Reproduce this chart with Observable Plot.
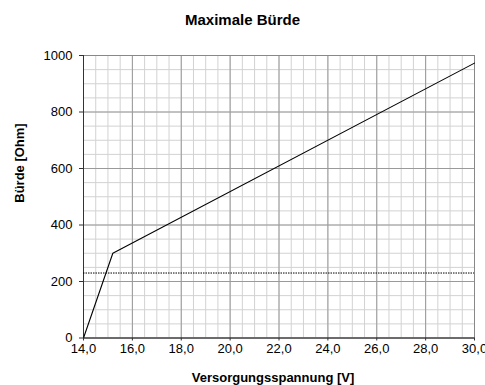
<!DOCTYPE html>
<html>
<head>
<meta charset="utf-8">
<script src="https://cdn.jsdelivr.net/npm/d3@7"></script>
<script src="https://cdn.jsdelivr.net/npm/@observablehq/plot@0.6"></script>
<style>
  body { margin: 0; background: #fff; font-family: "Liberation Sans", Arial, sans-serif; }
  #wrap { width: 485px; height: 385px; position: relative; overflow: hidden; }
  #title { width: 485px; height: 28px; padding-top: 12px; text-align: center; font: bold 15px/15px "Liberation Sans", Arial, sans-serif; color: #000; }
</style>
</head>
<body>
<div id="wrap">
  <div id="title">Maximale Bürde</div>
  <div id="chart"></div>
</div>
<script>
// Data
const voltage = [14.0, 15.2, 30.0];          // Versorgungsspannung [V]
const burden = [0, 300, 973];                 // Bürde [Ohm]
const referenceLine = [230];                  // dotted horizontal line [Ohm]
const xTicks = [14, 16, 18, 20, 22, 24, 26, 28, 30];
const yTicks = [0, 200, 400, 600, 800, 1000];
const xLabel = "Versorgungsspannung [V]";
const yLabel = "Bürde [Ohm]";

const xMinor = d3.range(14, 30.001, 0.5);
const yMinor = d3.range(0, 1000.001, 50);
const data = voltage.map((v, i) => ({v, r: burden[i]}));
const fmtX = d => d.toFixed(1).replace(".", ",");
const fmtY = d => String(d);

const chart = Plot.plot({
  width: 485,
  height: 345,
  marginTop: 15,
  marginBottom: 47.5,
  marginLeft: 83,
  marginRight: 11,
  style: {fontFamily: "'Liberation Sans', Arial, sans-serif", fontSize: "13px", background: "#fff", overflow: "visible"},
  x: {domain: [14, 30], nice: false},
  y: {domain: [0, 1000], nice: false},
  marks: [
    Plot.ruleX(xMinor, {stroke: "#d2d2d2", strokeWidth: 1}),
    Plot.ruleY(yMinor, {stroke: "#d2d2d2", strokeWidth: 1}),
    Plot.ruleX(xTicks, {stroke: "#9a9a9a", strokeWidth: 1}),
    Plot.ruleY(yTicks, {stroke: "#9a9a9a", strokeWidth: 1}),
    Plot.frame({stroke: "#888"}),
    Plot.ruleX([14], {stroke: "#333"}),
    Plot.ruleY([0], {stroke: "#333"}),
    Plot.ruleY(referenceLine, {stroke: "#000", strokeWidth: 1, strokeDasharray: "1.5,1"}),
    Plot.line(data, {x: "v", y: "r", stroke: "#000", strokeWidth: 1.1}),
    Plot.axisX({ticks: xTicks, tickFormat: fmtX, tickSize: 3, tickPadding: 3, label: null, stroke: "#333"}),
    Plot.axisY({ticks: yTicks, tickFormat: fmtY, tickSize: 4, tickPadding: 7, label: null, stroke: "#333"}),
    Plot.text([xLabel], {frameAnchor: "bottom", dy: 43.5, dx: -6, lineAnchor: "bottom", text: d => d, fontWeight: "bold", fontSize: 13}),
    Plot.text([yLabel], {frameAnchor: "left", dx: -63.5, dy: 6, rotate: -90, lineAnchor: "middle", text: d => d, fontWeight: "bold", fontSize: 13})
  ]
});
document.getElementById("chart").appendChild(chart);
</script>
</body>
</html>
